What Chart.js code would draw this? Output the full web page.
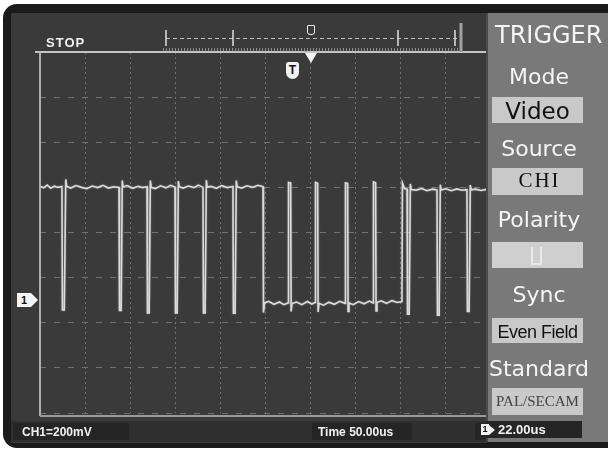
<!DOCTYPE html>
<html><head><meta charset="utf-8">
<title>Oscilloscope - Trigger Video</title>
<script src="https://cdn.jsdelivr.net/npm/chart.js@4.4.1/dist/chart.umd.min.js"></script>
<style>
html,body{margin:0;padding:0;background:#ffffff;}
#wrap{position:relative;width:608px;height:450px;overflow:hidden;font-family:"Liberation Sans",Arial,sans-serif;}
#frame{position:absolute;left:3px;top:4px;width:640px;height:444px;background:#1b1b1b;border-radius:14px;}
#screen{position:absolute;left:11px;top:13px;width:476px;height:430px;background:#3a3a3a;}
#strip{position:absolute;left:11px;top:421px;width:476px;height:21px;background:#2f2f2f;}
.sbox{position:absolute;top:423px;height:17px;background:#252525;}
.stxt{position:absolute;color:#f2f2f2;font-weight:bold;font-size:12px;line-height:12px;white-space:nowrap;}
#cv{position:absolute;left:0;top:0;}
#panel{position:absolute;left:486px;top:13px;width:130px;height:429px;background:#797979;border-left:2px solid #4a4a4a;box-sizing:border-box;}
.lab{position:absolute;left:487px;width:104px;text-align:center;color:#f5f5f5;font-family:"DejaVu Sans",sans-serif;font-size:22px;line-height:22px;white-space:nowrap;}
.box{position:absolute;left:492px;width:91px;height:26px;background:#c9c9c9;}
.btxt{position:absolute;left:492px;width:91px;text-align:center;color:#111;white-space:nowrap;}
</style></head>
<body>
<div id="wrap">
  <div id="frame"></div>
  <div id="screen"></div>
  <div id="strip"></div>
  <div class="sbox" style="left:13px;width:116px;"></div>
  <div class="sbox" style="left:312px;width:100px;"></div>
  <div class="sbox" style="left:475px;width:107px;"></div>
  <canvas id="cv" width="608" height="450"></canvas>

  <div class="stxt" style="left:46px;top:36px;font-size:13px;line-height:13px;letter-spacing:1px;">STOP</div>
  <div class="stxt" style="left:22px;top:426px;">CH1=200mV</div>
  <div class="stxt" style="left:318px;top:426px;">Time 50.00us</div>

  <!-- trigger markers -->
  <div style="position:absolute;left:307px;top:25px;width:6px;height:8px;border:1.5px solid #eeeeee;border-radius:1px 1px 3px 3px;"></div>
  <div style="position:absolute;left:305px;top:53px;width:0;height:0;border-left:6px solid transparent;border-right:6px solid transparent;border-top:10px solid #f4f4f4;"></div>
  <div style="position:absolute;left:286px;top:62px;width:13px;height:17px;background:#f2f2f2;border-radius:3px 3px 7px 7px;color:#111;font:bold 12px/17px 'Liberation Sans',sans-serif;text-align:center;">T</div>

  <!-- ground marker -->
  <div id="gnd" style="position:absolute;left:17px;top:293px;width:14px;height:14px;background:#f4f4f4;color:#111;font:bold 11px/14px 'Liberation Sans',sans-serif;text-align:center;">1</div>
  <div id="gndArrow" style="position:absolute;left:31px;top:293px;width:0;height:0;border-top:7px solid transparent;border-bottom:7px solid transparent;border-left:7px solid #f4f4f4;"></div>

  <div id="panel"></div>
  <div class="lab" style="left:495px;width:130px;text-align:left;top:23px;font-size:24px;line-height:24px;">TRIGGER</div>
  <div class="lab" style="top:66px;">Mode</div>
  <div class="box" style="top:97px;"></div>
  <div class="btxt" style="top:100px;font:23px/23px 'DejaVu Sans',sans-serif;">Video</div>
  <div class="lab" style="top:138px;">Source</div>
  <div class="box" style="top:168px;height:27px;"></div>
  <div class="btxt" style="top:170px;padding-left:4px;box-sizing:border-box;font:21px/21px 'Liberation Serif',serif;letter-spacing:2px;">CHI</div>
  <div class="lab" style="top:209px;">Polarity</div>
  <div class="box" style="top:242px;background:#cfcfcf;"></div>
  <div style="position:absolute;left:531px;top:247px;width:7px;height:16px;border-left:2px solid #e9e9e9;border-right:2px solid #e9e9e9;border-bottom:2px solid #e9e9e9;"></div>
  <div class="lab" style="top:284px;">Sync</div>
  <div class="box" style="top:318px;height:25px;"></div>
  <div class="btxt" style="top:323px;font:18px/18px 'Liberation Sans',sans-serif;letter-spacing:-0.5px;">Even Field</div>
  <div class="lab" style="top:358px;">Standard</div>
  <div class="box" style="top:388px;height:27px;"></div>
  <div class="btxt" style="top:394px;color:#444;font:15px/15px 'Liberation Serif',serif;">PAL/SECAM</div>

  <div class="sbox" style="left:486px;width:96px;top:421px;height:17px;"></div>
  <div style="position:absolute;left:481px;top:424px;width:8px;height:11px;background:#f2f2f2;color:#111;font:bold 9px/11px 'Liberation Sans',sans-serif;text-align:center;">1</div>
  <div style="position:absolute;left:489px;top:425px;width:0;height:0;border-top:5px solid transparent;border-bottom:5px solid transparent;border-left:6px solid #f2f2f2;"></div>
  <div class="stxt" style="left:498px;top:423px;font-size:13px;line-height:13px;">22.00us</div>
</div>

<script>
// CH1 waveform (time in microseconds from left edge, voltage in mV)
const timeUs = [
  0, 4, 8, 12, 16, 20, 24.4,
  24.9, 27.0, 28.6, 29.6,
  34, 40, 46, 52, 58, 64, 70, 76, 82, 87.8,
  88.3, 90.2, 91.4, 92.4,
  97, 103, 109, 114, 118.9,
  119.4, 121.3, 122.6, 123.6,
  128, 134, 140, 145, 150.0,
  150.5, 152.4, 153.7, 154.7,
  159, 165, 171, 176, 181.1,
  181.6, 183.5, 184.8, 185.8,
  190, 196, 202, 208, 214.4,
  214.9, 216.8, 218.1, 219.1,
  224, 230, 236, 242, 247.8,
  248.3, 249.5,
  254, 260, 266, 271, 275.6,
  276.1, 278.5, 279.0, 280.0,
  285, 291, 297, 302, 305.6,
  306.1, 308.5, 309.0, 310.0,
  315, 321, 327, 333, 338.9,
  339.4, 341.8, 342.3, 343.3,
  348, 354, 360, 366, 370.0,
  370.5, 372.9, 373.4, 374.4,
  379, 385, 391, 397, 402.2,
  402.7, 405, 407.8,
  408.3, 410.2, 411.5, 412.5,
  418, 424, 430, 436, 441.1,
  441.6, 443.5, 444.8, 445.8,
  451, 457, 463, 469, 474.4,
  474.9, 476.8, 478.1, 479.1,
  484, 490, 496, 500
];
const ch1mV = [
  505, 498, 510, 496, 506, 500, 504,
  -43, -43, 535, 505,
  497, 508, 500, 494, 506, 499, 509, 497, 503, 500,
  -45, -45, 530, 502,
  508, 496, 505, 499, 503,
  -57, -57, 530, 500,
  494, 507, 498, 509, 501,
  -57, -57, 528, 503,
  497, 506, 499, 510, 500,
  -57, -57, 532, 501,
  505, 496, 508, 499, 504,
  -58, -58, 530, 503,
  497, 507, 500, 509, 503,
  -55, -12,
  -5, -18, -8, -20, -12,
  522, 520, -50, -15,
  -8, -20, -6, -17, -10,
  522, 518, -52, -14,
  -22, -9, -18, -5, -14,
  520, 518, -50, -12,
  -20, -6, -16, -4, -12,
  524, 520, -48, -10,
  -3, -14, -2, -10, -6,
  520, 495, 492,
  -62, -62, 515, 490,
  488, 495, 485, 492, 489,
  -66, -66, 512, 488,
  494, 485, 493, 487, 490,
  -50, -50, 510, 489,
  492, 486, 491, 489
];
// graticule: 10 x 50 us horizontally, 8 x 200 mV vertically (ground 2.5 div above bottom)
const xTicks = [0, 50, 100, 150, 200, 250, 300, 350, 400, 450, 500];
const yTicks = [-500, -300, -100, 100, 300, 500, 700, 900, 1100];

const decor = {
  id: 'decor',
  beforeDatasetsDraw(chart) {
    chart.ctx.save();
    chart.ctx.shadowColor = 'rgba(255,255,255,0.35)';
    chart.ctx.shadowBlur = 2;
  },
  afterDatasetsDraw(chart) { chart.ctx.restore(); },
  afterDraw(chart) {
    const c = chart.ctx, a = chart.chartArea;
    c.save();
    // plot borders
    c.lineWidth = 2;
    c.strokeStyle = '#c4c4c4';
    c.beginPath(); c.moveTo(35, a.top); c.lineTo(a.right, a.top); c.stroke();
    c.strokeStyle = '#b0b0b0';
    c.beginPath(); c.moveTo(a.left, a.top); c.lineTo(a.left, a.bottom + 3); c.stroke();
    c.strokeStyle = '#9a9a9a';
    c.beginPath(); c.moveTo(a.left, a.bottom + 3); c.lineTo(a.right, a.bottom + 3); c.stroke();
    // memory ruler
    c.lineWidth = 1;
    c.strokeStyle = '#bdbdbd';
    c.setLineDash([4, 3]);
    c.beginPath(); c.moveTo(166, 38.5); c.lineTo(458, 38.5); c.stroke();
    c.setLineDash([]);
    c.strokeStyle = '#8c8c8c';
    c.beginPath();
    for (let x = 163; x <= 461; x += 3) { c.moveTo(x + 0.5, 48); c.lineTo(x + 0.5, 51); }
    c.stroke();
    c.strokeStyle = '#e0e0e0';
    c.lineWidth = 1.5;
    c.beginPath();
    [166, 233, 398, 455].forEach(x => { c.moveTo(x, 30); c.lineTo(x, 46); });
    c.stroke();
    c.strokeStyle = '#a0a0a0';
    c.lineWidth = 3;
    c.beginPath(); c.moveTo(461, 23); c.lineTo(461, 52); c.stroke();
    c.restore();
    // ground marker follows 0 mV on the y scale
    const gy = chart.scales.y.getPixelForValue(0);
    document.getElementById('gnd').style.top = (gy - 7) + 'px';
    document.getElementById('gndArrow').style.top = (gy - 7) + 'px';
  }
};

new Chart(document.getElementById('cv'), {
  type: 'line',
  data: {
    datasets: [{
      label: 'CH1',
      data: timeUs.map((t, i) => ({ x: t, y: ch1mV[i] })),
      borderColor: '#dcdcdc',
      borderWidth: 1.6,
      pointRadius: 0,
      tension: 0,
      fill: false
    }]
  },
  options: {
    responsive: false,
    animation: false,
    devicePixelRatio: 1,
    layout: { padding: { left: 40, top: 52, right: 118, bottom: 37 } },
    plugins: { legend: { display: false }, tooltip: { enabled: false } },
    scales: {
      x: {
        type: 'linear', min: xTicks[0], max: xTicks[xTicks.length - 1],
        afterBuildTicks: s => { s.ticks = xTicks.map(v => ({ value: v })); },
        ticks: { display: false },
        grid: { color: '#727272', lineWidth: 1, drawTicks: false },
        border: { display: false, dash: [2, 3] }
      },
      y: {
        type: 'linear', min: yTicks[0], max: yTicks[yTicks.length - 1],
        afterBuildTicks: s => { s.ticks = yTicks.map(v => ({ value: v })); },
        ticks: { display: false },
        grid: { color: '#727272', lineWidth: 1, drawTicks: false },
        border: { display: false, dash: [6, 8] }
      }
    }
  },
  plugins: [decor]
});
</script>
</body></html>
